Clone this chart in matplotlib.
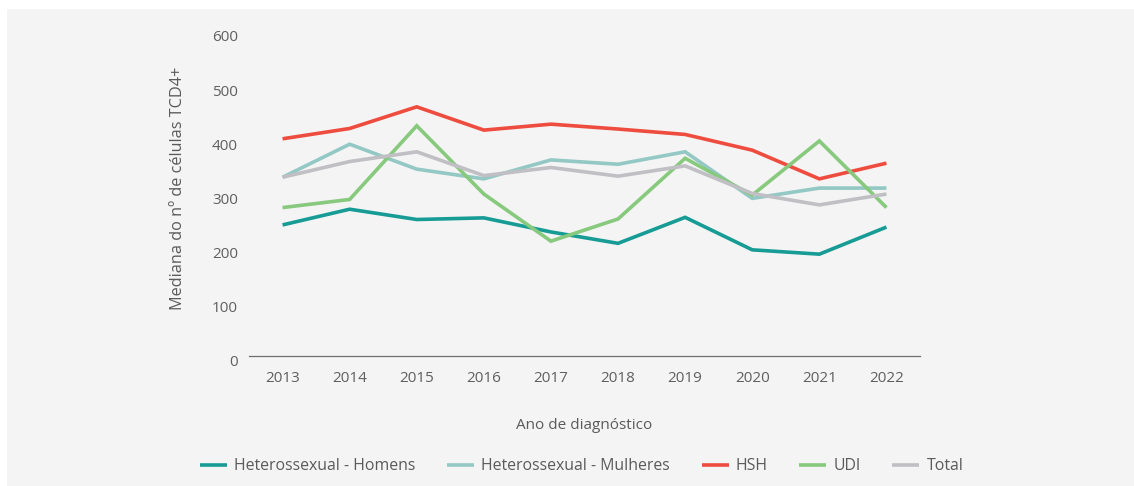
import matplotlib.pyplot as plt
import matplotlib.transforms as mtransforms
from matplotlib.patches import Rectangle

plt.rcParams['font.family'] = ['Open Sans', 'DejaVu Sans']

years = [2013, 2014, 2015, 2016, 2017, 2018, 2019, 2020, 2021, 2022]
het_homens   = [242, 271, 252, 255, 229, 208, 256, 196, 188, 238]
het_mulheres = [330, 391, 345, 327, 362, 354, 377, 291, 310, 310]
hsh          = [401, 420, 460, 417, 428, 419, 409, 380, 327, 356]
udi          = [274, 289, 425, 299, 212, 253, 365, 297, 397, 274]
total        = [330, 359, 377, 333, 348, 332, 351, 300, 279, 299]

series = [
    ('Heterossexual - Homens',   het_homens,   '#179b95'),
    ('Heterossexual - Mulheres', het_mulheres, '#93c8c5'),
    ('HSH',                      hsh,          '#ee4c3f'),
    ('UDI',                      udi,          '#87c97d'),
    ('Total',                    total,        '#c0bfc4'),
]

fig = plt.figure(figsize=(11.34, 4.86), dpi=100)
fig.patch.set_facecolor('white')
# grey panel behind the chart
fig.patches.append(Rectangle((7 / 1134, 0), 1 - 7 / 1134, (486 - 9) / 486,
                             transform=fig.transFigure, facecolor='#f4f4f4',
                             edgecolor='none', zorder=-10))

ax = fig.add_axes([249 / 1134, (486 - 356) / 486, 671 / 1134, 325 / 486])
ax.set_facecolor('none')

for name, vals, col in series:
    ax.plot(years, vals, color=col, lw=2.6, label=name, solid_capstyle='butt',
            solid_joinstyle='miter')

ax.set_xlim(2012.5, 2022.5)
ax.set_ylim(0, 600)
ax.set_xticks(years)
ax.set_yticks(range(0, 601, 100))

for s in ['top', 'right', 'left']:
    ax.spines[s].set_visible(False)
ax.spines['bottom'].set_color('#6e6e6e')
ax.spines['bottom'].set_linewidth(0.9)

ax.tick_params(axis='both', length=0, labelsize=11, labelcolor='#5f5f5f')
ax.tick_params(axis='x', pad=11)
ax.tick_params(axis='y', pad=8)

# y labels sit slightly below their value
offset = mtransforms.ScaledTranslation(0, -5 / 100, fig.dpi_scale_trans)
for lab in ax.get_yticklabels():
    lab.set_transform(lab.get_transform() + offset)

ax.set_ylabel('Mediana do nº de células TCD4+', fontsize=11.7, color='#5a5a5a')
ax.yaxis.set_label_coords(-0.094, 0.515)
ax.set_xlabel('Ano de diagnóstico', fontsize=11, color='#5a5a5a')
ax.xaxis.set_label_coords(0.5, -0.19)

fig.legend(loc='center', bbox_to_anchor=(0.513, 0.041), ncol=5, frameon=False,
           fontsize=11.4, labelcolor='#5a5a5a', handlelength=1.7,
           handletextpad=0.45, columnspacing=2.0)

fig.savefig('out.png', dpi=100)
